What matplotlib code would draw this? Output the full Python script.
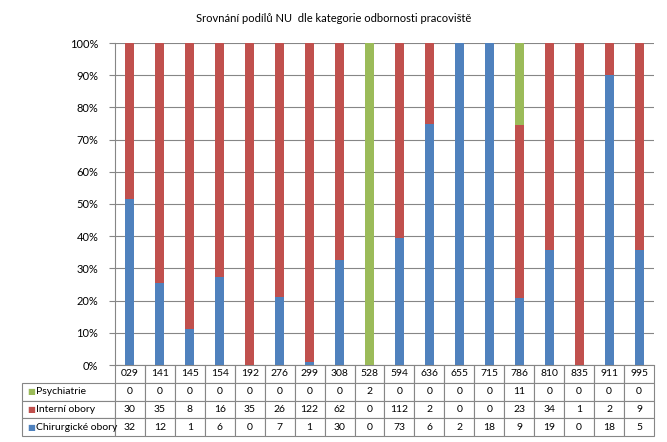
import numpy as np
import matplotlib.pyplot as plt

# Data
categories = ["029", "141", "145", "154", "192", "276", "299", "308", "528",
              "594", "636", "655", "715", "786", "810", "835", "911", "995"]
psychiatrie = [0, 0, 0, 0, 0, 0, 0, 0, 2, 0, 0, 0, 0, 11, 0, 0, 0, 0]
interni = [30, 35, 8, 16, 35, 26, 122, 62, 0, 112, 2, 0, 0, 23, 34, 1, 2, 9]
chirurgicke = [32, 12, 1, 6, 0, 7, 1, 30, 0, 73, 6, 2, 18, 9, 19, 0, 18, 5]
series_names = ["Psychiatrie", "Interní obory", "Chirurgické obory"]

C_BLUE = "#4F81BD"
C_RED = "#C0504D"
C_GREEN = "#9BBB59"
GRID = "#868686"

plt.rcParams["font.family"] = ["Lato", "DejaVu Sans"]
plt.rcParams["font.size"] = 7.5

W, H = 667, 442
fig = plt.figure(figsize=(W / 100, H / 100), dpi=100)
# plot area in pixels: x 115..654, y 43..365
ax = fig.add_axes([115 / W, 1 - 365 / H, 539 / W, 322 / H])

chir = np.array(chirurgicke, float)
inte = np.array(interni, float)
psy = np.array(psychiatrie, float)
tot = chir + inte + psy
x = np.arange(len(categories))

bw = 0.3
ax.bar(x, chir / tot, bw, color=C_BLUE, zorder=3)
ax.bar(x, inte / tot, bw, bottom=chir / tot, color=C_RED, zorder=3)
ax.bar(x, psy / tot, bw, bottom=(chir + inte) / tot, color=C_GREEN, zorder=3)

ax.set_xlim(-0.5, len(categories) - 0.5)
ax.set_ylim(0, 1)
ax.set_yticks(np.arange(0, 1.01, 0.1))
ax.set_yticklabels([f"{int(round(v * 100))}%" for v in np.arange(0, 1.01, 0.1)])
ax.yaxis.grid(True, color=GRID, linewidth=0.8, zorder=0)
ax.tick_params(axis="y", length=4, color=GRID, pad=8, labelsize=8)
ax.set_xticks([])
for s in ["top", "right"]:
    ax.spines[s].set_visible(False)
ax.spines["left"].set_color(GRID)
ax.spines["bottom"].set_color(GRID)

fig.text(0.5, 1 - 18 / H, "Srovnání podílů NU  dle kategorie odbornosti pracoviště",
         ha="center", va="center", fontsize=8)

# data table below the plot
label_w = 93 / 539
rows = []
for vals in [psychiatrie, interni, chirurgicke]:
    rows.append([""] + [str(v) for v in vals])
col_widths = [label_w] + [1 / len(categories)] * len(categories)
tb_h = 71 / 322
tbl = ax.table(cellText=rows, colLabels=[""] + categories, colWidths=col_widths,
               cellLoc="center", bbox=[-label_w, -tb_h, 1 + label_w, tb_h])
tbl.auto_set_font_size(False)
tbl.set_fontsize(7.5)
for (r, c), cell in tbl.get_celld().items():
    cell.set_edgecolor(GRID)
    cell.set_linewidth(0.8)
    if r == 0:
        cell.visible_edges = "BLR" if c > 0 else ""

# legend keys + row labels inside the first column
row_h = tb_h / 4
colors = [C_GREEN, C_RED, C_BLUE]
for i, (name, col) in enumerate(zip(series_names, colors)):
    yc = -row_h * (i + 1.5)
    ax.text(-label_w + 5 / 539, yc, "■", color=col, fontsize=6,
            transform=ax.transAxes, ha="left", va="center", clip_on=False)
    ax.text(-label_w + 14 / 539, yc, name, transform=ax.transAxes,
            ha="left", va="center", clip_on=False)

fig.savefig("out.png", dpi=100)
